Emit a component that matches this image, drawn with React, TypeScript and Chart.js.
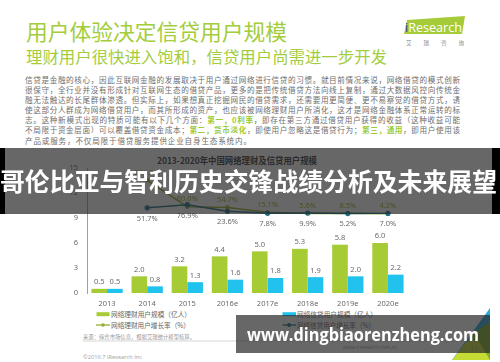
import React, { useEffect, useRef } from "react";
import { Chart, registerables } from "chart.js";

Chart.register(...registerables);

const years = ["2013", "2014", "2015", "2016e", "2017e", "2018e", "2019e", "2020e"];
const wealthUsers = [0.5, 2.0, 3.2, 4.4, 5.0, 5.3, 5.8, 6.0];
const loanUsers = [0.5, 0.8, 1.3, 1.6, 1.8, 1.9, 2.0, 2.2];
const wealthGrowth = [null, 271.8, 60.0, 54.7, 15.1, 5.6, 8.5, 4.2];
const loanGrowth = [null, 51.7, 76.9, 23.6, 7.8, 9.9, 5.2, 7.0];
const yTicks = [0, 3, 6, 9, 12, 15];

const GREEN = "#a7cb35";
const BLUE = "#21c2ee";
const OLIVE = "#93b02c";
const TEAL = "#1b6d86";
const CJK = "'Noto Sans CJK SC', 'Noto Sans', sans-serif";

const paragraph: Array<Array<[string, boolean]>> = [
  [["信贷是金融的核心，因此互联网金融的发展取决于用户通过网络进行信贷的习惯。就目前情况来说，网络借贷的模式创新", false]],
  [["很保守，全行业并没有形成针对互联网生态的借贷产品，更多的是把传统借贷方法向线上复制，通过大数据风控向传统金", false]],
  [["融无法触达的长尾群体渗透。但实际上，如果想真正挖掘网民的借贷需求，还需要用更简便、更不易察觉的借贷方式，诱", false]],
  [["使这部分人群成为网络借贷用户，而其所形成的资产，也应该被网络理财用户所消化，这才是网络金融体系正常运转的标", false]],
  [["志。这种新模式出现的特质可能有以下几个方面：", false], ["第一，0利率", true], ["，即存在第三方通过借贷用户获得的收益（这种收益可能", false]],
  [["不局限于资金层面）可以覆盖借贷资金成本；", false], ["第二，货币淡化", true], ["，即使用户忽略这是借贷行为；", false], ["第三，通用", true], ["，即用户使用该", false]],
  [["产品或服务，不仅局限于借贷服务提供企业自身生态系统内。", false]],
];

const labelPlugin = {
  id: "valueLabels",
  afterDatasetsDraw(chart: any) {
    const ctx = chart.ctx;
    ctx.save();
    ctx.font = "7.5px 'Noto Sans', sans-serif";
    ctx.textAlign = "center";
    chart.data.datasets.forEach((ds: any, i: number) => {
      const meta = chart.getDatasetMeta(i);
      meta.data.forEach((el: any, j: number) => {
        const v = ds.data[j];
        if (v == null) return;
        if (ds.type === "bar") {
          ctx.fillStyle = "#6a6a6a";
          ctx.textBaseline = "bottom";
          ctx.fillText(v.toFixed(1), el.x, el.y - 3);
        } else if (ds.key === "wealth") {
          ctx.fillStyle = OLIVE;
          ctx.textBaseline = "bottom";
          ctx.fillText(v.toFixed(1) + "%", el.x, el.y - 4);
        } else {
          ctx.fillStyle = "#6a6a6a";
          ctx.textBaseline = "top";
          ctx.fillText(v.toFixed(1) + "%", el.x, el.y + 7);
        }
      });
    });
    ctx.restore();
  },
};

export default function App() {
  const ref = useRef<HTMLCanvasElement>(null);
  useEffect(() => {
    const chart = new Chart(ref.current as HTMLCanvasElement, {
      type: "bar",
      data: {
        labels: years,
        datasets: [
          {
            type: "line", key: "loan", label: "网络信贷用户增长率（%）", data: loanGrowth, yAxisID: "y1",
            borderColor: TEAL, backgroundColor: TEAL, borderWidth: 1.5, pointRadius: 2.6,
            pointBackgroundColor: TEAL, pointBorderWidth: 0, order: 0, tension: 0,
          } as any,
          {
            type: "line", key: "wealth", label: "网络理财用户增长率（%）", data: wealthGrowth, yAxisID: "y1",
            borderColor: OLIVE, backgroundColor: OLIVE, borderWidth: 1.5, pointRadius: 2.2,
            pointBackgroundColor: OLIVE, pointBorderWidth: 0, order: 1, tension: 0,
          } as any,
          {
            type: "bar", label: "网络理财用户规模（亿人）", data: wealthUsers, backgroundColor: GREEN,
            order: 2, categoryPercentage: 0.78, barPercentage: 1, yAxisID: "y",
          } as any,
          {
            type: "bar", label: "网络信贷用户规模（亿人）", data: loanUsers, backgroundColor: BLUE,
            order: 3, categoryPercentage: 0.78, barPercentage: 1, yAxisID: "y",
          } as any,
        ],
      },
      options: {
        animation: false,
        responsive: false,
        devicePixelRatio: 1,
        layout: { padding: { top: 18, right: 12, left: 0, bottom: 0 } },
        plugins: { legend: { display: false }, tooltip: { enabled: false }, title: { display: false } },
        scales: {
          x: {
            grid: { display: false, drawTicks: false },
            border: { display: false },
            ticks: { color: "#6a6a6a", font: { size: 7.5, family: "'Noto Sans', sans-serif" }, padding: 6, maxRotation: 0, autoSkip: false },
            afterFit: (s: any) => { s.height = 17; },
          },
          y: {
            min: 0, max: 15,
            afterBuildTicks: (s: any) => { s.ticks = yTicks.map((v) => ({ value: v })); },
            afterFit: (s: any) => { s.width = 27; },
            grid: { display: false, drawTicks: false },
            border: { display: true, color: "#a0a0a0", width: 1 },
            ticks: { color: "#6a6a6a", font: { size: 7.5, family: "'Noto Sans', sans-serif" }, padding: 9 },
          },
          y1: {
            display: false, min: -630, max: 370,
          },
        },
      },
      plugins: [labelPlugin],
    } as any);
    return () => chart.destroy();
  }, []);

  const paraTop = 80;
  const paraStep = 10.1;
  return (
    <div style={{ position: "fixed", left: 0, top: 0, width: 500, height: 362, background: "#fff", overflow: "hidden" }}>
      <svg width={500} height={362} style={{ position: "absolute", left: 0, top: 0 }}>
        <text x={26} y={39.8} fontFamily={CJK} fontSize={21.5} fill="#a3cd3d" textLength={261} lengthAdjust="spacingAndGlyphs">用户体验决定信贷用户规模</text>
        <text x={26} y={63.3} fontFamily={CJK} fontSize={16.2} fill="#a3cd3d" textLength={361} lengthAdjust="spacingAndGlyphs">理财用户很快进入饱和，信贷用户尚需进一步开发</text>
        <polygon points="407,20 465,16 462,34 404,34" fill="#a5cc38" />
        <text x={405} y={31.5} fontFamily="'Open Sans', sans-serif" fontSize={12.5} textLength={57} lengthAdjust="spacingAndGlyphs">
          <tspan fill="#1f3d8c">i</tspan><tspan fill="#ffffff">Research</tspan>
        </text>
        <text x={406} y={45} fontFamily={CJK} fontSize={5.5} fill="#8a8a8a" textLength={58} lengthAdjust="spacing">艾 瑞 咨 询</text>
        {paragraph.map((parts, i) => (
          <text key={i} x={25} y={paraTop + i * paraStep + 2.9} fontFamily={CJK} fontSize={7.6} fill="#6e6e6e"
            textLength={i < 6 ? 435 : 226} lengthAdjust="spacing">
            {parts.map(([t, g], k) => (
              <tspan key={k} fill={g ? "#9dcb35" : "#6e6e6e"} fontWeight={g ? 700 : 400}>{t}</tspan>
            ))}
          </text>
        ))}
        <text x={237} y={164} textAnchor="middle" fontFamily={CJK} fontSize={9} fontWeight={700} fill="#333" textLength={160} lengthAdjust="spacingAndGlyphs">2013-2020年中国网络理财及信贷用户规模</text>
        <rect x={96.5} y={312.2} width={13} height={4} fill={GREEN} />
        <text x={111} y={316.6} fontFamily={CJK} fontSize={7} fill="#666" textLength={80} lengthAdjust="spacingAndGlyphs">网络理财用户规模（亿人）</text>
        <rect x={282.5} y={312.2} width={13.5} height={4} fill={BLUE} />
        <text x={297} y={316.6} fontFamily={CJK} fontSize={7} fill="#666" textLength={80} lengthAdjust="spacingAndGlyphs">网络信贷用户规模（亿人）</text>
        <line x1={96} y1={325} x2={110} y2={325} stroke={OLIVE} strokeWidth={1.3} />
        <circle cx={103} cy={325} r={1.8} fill={OLIVE} />
        <text x={111} y={327.6} fontFamily={CJK} fontSize={7} fill="#666" textLength={79} lengthAdjust="spacingAndGlyphs">网络理财用户增长率（%）</text>
        <line x1={282.5} y1={325} x2={296} y2={325} stroke={TEAL} strokeWidth={1.3} />
        <circle cx={289} cy={325} r={1.9} fill={TEAL} />
        <text x={297} y={327.6} fontFamily={CJK} fontSize={7} fill="#666" textLength={78} lengthAdjust="spacingAndGlyphs">网络信贷用户增长率（%）</text>
        <text x={83} y={338.6} fontFamily={CJK} fontSize={5.5} fill="#9a9a9a" textLength={112} lengthAdjust="spacingAndGlyphs">来源：综合市场信息，根据艾瑞统计模型核算。</text>
        <line x1={83} y1={341} x2={462} y2={341} stroke="#c4c4c4" strokeWidth={0.7} />
        <text x={83} y={358.5} fontFamily="'Open Sans', sans-serif" fontSize={5.5} fill="#a0a0a0" textLength={59} lengthAdjust="spacingAndGlyphs">©2016.7 iResearch Inc</text>
        <text x={343} y={349} fontFamily="'Open Sans', sans-serif" fontSize={5.5} fill="#a0a0a0" textLength={54} lengthAdjust="spacingAndGlyphs">www.iresearch.com.cn</text>
        <polygon points="490,308 490,360 452,360" fill="#2aa8dc" />
        <polygon points="490,322 490,360 458,360 472,334" fill="#7fae2a" />
        <polygon points="452,360 490,360 478,340 466,342" fill="#c5dc35" />
        <text x={470} y={352} fontFamily="'Open Sans', sans-serif" fontSize={7} fill="#9a9a9a">11</text>
      </svg>
      <canvas ref={ref} width={360} height={160} style={{ position: "absolute", left: 60, top: 150, width: 360, height: 160 }} />
      <svg width={500} height={362} style={{ position: "absolute", left: 0, top: 0 }}>
        <rect x={0} y={148} width={500} height={66} fill="rgba(38,38,38,0.7)" />
        <rect x={0} y={148} width={5} height={66} fill="#000" />
        <rect x={492} y={148} width={8} height={66} fill="#000" />
        <text x={0} y={190.5} fontFamily={CJK} fontSize={25} fontWeight={700} fill="#ffffff" textLength={497} lengthAdjust="spacingAndGlyphs">哥伦比亚与智利历史交锋战绩分析及未来展望</text>
        <rect x={236} y={315} width={254} height={38} fill="rgba(38,38,38,0.7)" />
        <text x={247} y={340.5} fontFamily="'Open Sans', sans-serif" fontSize={18} fontWeight={700} fill="#ffffff" textLength={232} lengthAdjust="spacingAndGlyphs">www.dingbiaorenzheng.com</text>
      </svg>
    </div>
  );
}
